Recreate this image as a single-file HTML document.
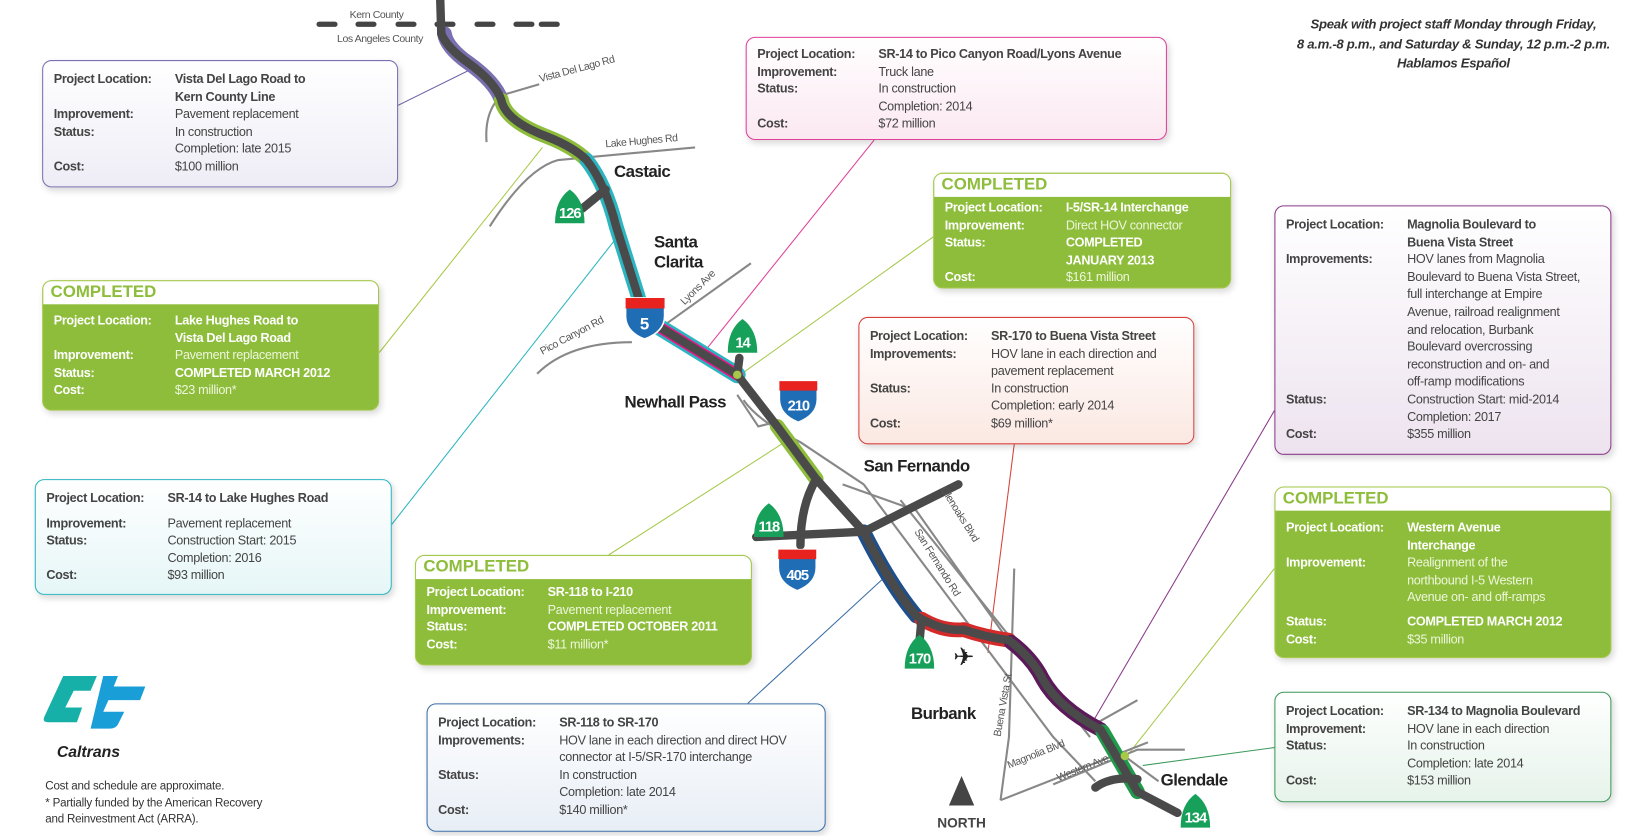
<!DOCTYPE html>
<html><head><meta charset="utf-8">
<style>
html,body{margin:0;padding:0;background:#fff;}
#wrap{position:relative;width:1643px;height:836px;overflow:hidden;background:#fff;}
#s{position:absolute;left:0;top:0;width:1560px;height:794px;transform:scale(1.0532,1.0529);transform-origin:0 0;font-family:"Liberation Sans",sans-serif;}
.box{position:absolute;border-radius:9px;box-sizing:border-box;font-size:12px;letter-spacing:-0.3px;line-height:16.6px;color:#444;box-shadow:2px 3px 6px rgba(0,0,0,.15);}
.box .c{padding:9px 10px;}
.row{display:flex;}
.row .l{width:115px;flex:none;font-weight:bold;white-space:nowrap;}
.row .v{flex:1;white-space:nowrap;}
.b{font-weight:bold;}
.comp{border:1.5px solid #a6c94a;background:#8dbd3a;overflow:hidden;}
.comp .h{background:#fff;color:#8dbd3a;font-weight:bold;font-size:16px;letter-spacing:0;line-height:22px;padding:0 7px;}
.comp .c{color:#f2f8e6;}
.comp .l{color:#fff;}
.comp .v{color:#eef6dc;}
.comp .v.b{color:#fff;}
.lab{position:absolute;color:#222;font-weight:bold;font-size:16px;letter-spacing:-0.5px;line-height:19px;}
</style></head><body><div id="wrap"><div id="s">

<svg width="1560" height="794" style="position:absolute;left:0;top:0">
<g stroke="#444" stroke-width="5" stroke-linecap="round">
<line x1="303" y1="23" x2="318" y2="23"/><line x1="340" y1="23" x2="355" y2="23"/><line x1="378" y1="23" x2="393" y2="23"/><line x1="415" y1="23" x2="430" y2="23"/><line x1="453" y1="23" x2="468" y2="23"/><line x1="490" y1="23" x2="505" y2="23"/><line x1="514" y1="23" x2="529" y2="23"/>
</g>
<g stroke-width="1" fill="none">
<line x1="378" y1="100" x2="455" y2="62" stroke="#6a62a8"/>
<line x1="360" y1="335" x2="515" y2="140" stroke="#a6c94a"/>
<line x1="372" y1="498" x2="590" y2="220" stroke="#2bb5c0"/>
<line x1="578" y1="527" x2="745" y2="420" stroke="#a6c94a"/>
<line x1="710" y1="668" x2="838" y2="550" stroke="#3a6ea5"/>
<line x1="830" y1="133" x2="668" y2="335" stroke="#e0409a"/>
<line x1="886" y1="225" x2="700" y2="358" stroke="#a6c94a"/>
<line x1="963" y1="422" x2="938" y2="620" stroke="#d9403a"/>
<line x1="1210" y1="390" x2="1035" y2="690" stroke="#8a3a8a"/>
<line x1="1210" y1="540" x2="1070" y2="718" stroke="#a6c94a"/>
<line x1="1210" y1="710" x2="1085" y2="727" stroke="#3a9a5a"/>
</g>
<g stroke="#888" stroke-width="2" fill="none">
<path d="M478 90 L512 80"/>
<path d="M472 95 Q460 110 462 135"/>
<path d="M465 215 Q500 160 530 152 L660 140"/>
<path d="M510 355 Q540 325 600 325"/>
<path d="M618 318 L713 250"/>
<path d="M700 375 L720 405 L740 400"/>
<path d="M706 380 Q720 400 760 420 L820 460 L925 600 L1000 700 L1040 742"/>
<path d="M800 460 L870 485 L960 612 L1050 705 L1100 742"/>
<path d="M855 475 L1035 700"/>
<path d="M963 540 L958 700 L950 760"/>
<path d="M950 760 L1090 705"/>
<path d="M1000 745 L1080 712 L1125 712"/>
<path d="M1030 693 L1080 665"/>
</g>
<g fill="none" stroke-width="14" stroke-linecap="round">
<path d="M422 32 Q424 45 445 60 Q470 78 476 95" stroke="#7a6fb0"/>
<path d="M476 95 Q480 115 520 130 Q545 140 557 152" stroke="#8dbd3a"/>
<path d="M557 152 Q575 175 585 215 L607 285" stroke="#2bb5c0"/>
<path d="M625 310 L700 356" stroke="#2bb5c0" stroke-width="16"/>
<path d="M625 310 L700 356" stroke="#e6198a" stroke-width="11"/>
<path d="M738 405 L775 455" stroke="#8dbd3a"/>
<path d="M820 505 Q845 555 870 585" stroke="#1f4f8a"/>
<path d="M875 588 Q895 600 915 598 Q935 605 958 608" stroke="#d42a2a"/>
<path d="M960 610 Q980 625 990 645 Q1005 672 1045 693" stroke="#5c1a5a"/>
<path d="M1047 695 L1080 752" stroke="#1f9a4a"/>
</g>
<g fill="none" stroke="#4a4a4a" stroke-width="8" stroke-linecap="round" stroke-linejoin="round">
<path d="M418 0 L419 32 Q424 45 445 60 Q470 78 476 95 Q480 115 520 130 Q545 140 557 152 Q575 175 585 215 L607 285"/>
<path d="M625 310 L700 356 L738 405 L775 455 L820 505 Q845 555 870 585 Q895 600 915 598 Q935 605 958 608 Q980 625 990 645 Q1005 672 1045 693 L1080 752 L1118 772"/>
<path d="M575 180 L553 198"/>
<path d="M702 340 L700 356"/>
<path d="M775 455 Q760 480 760 518"/>
<path d="M718 510 L820 505 L910 460"/>
<path d="M775 455 L820 505"/>
<path d="M875 588 L873 610"/>
<path d="M1040 748 Q1055 737 1080 740"/>
</g>
<circle cx="700" cy="356" r="4" fill="#a6c94a"/>
<circle cx="1068" cy="718" r="4" fill="#a6c94a"/>
<g fill="#17a05a">
<path d="M527 212 Q527 190 541 180 Q555 190 555 212 Z"/>
<path d="M691 335 Q691 313 705 303 Q719 313 719 335 Z"/>
<path d="M716 510 Q716 488 730 478 Q744 488 744 510 Z"/>
<path d="M859 635 Q859 613 873 603 Q887 613 887 635 Z"/>
<path d="M1121 786 Q1121 764 1135 754 Q1149 764 1149 786 Z"/>
</g>
<g fill="#fff" font-family="Liberation Sans,sans-serif" font-weight="bold" font-size="14" letter-spacing="-1" text-anchor="middle">
<text x="541" y="207">126</text><text x="705" y="330">14</text><text x="730" y="505">118</text><text x="873" y="630">170</text><text x="1135" y="781">134</text>
</g>
<g>
<path d="M594 283 L631 283 L631 300 Q631 315 612 322 Q594 315 594 300 Z" fill="#1f6db5" stroke="#fff" stroke-width="1.5"/>
<path d="M594 283 L631 283 L631 293 L594 293 Z" fill="#e8231f"/>
<text x="612" y="313" fill="#fff" font-family="Liberation Sans,sans-serif" font-weight="bold" font-size="16" text-anchor="middle">5</text>
<path d="M740 362 L776 362 L776 379 Q776 394 758 401 Q740 394 740 379 Z" fill="#1f6db5" stroke="#fff" stroke-width="1.5"/>
<path d="M740 362 L776 362 L776 371 L740 371 Z" fill="#e8231f"/>
<text x="758" y="390" fill="#fff" font-family="Liberation Sans,sans-serif" font-weight="bold" font-size="14" letter-spacing="-1" text-anchor="middle">210</text>
<path d="M739 522 L775 522 L775 539 Q775 554 757 561 Q739 554 739 539 Z" fill="#1f6db5" stroke="#fff" stroke-width="1.5"/>
<path d="M739 522 L775 522 L775 531 L739 531 Z" fill="#e8231f"/>
<text x="757" y="551" fill="#fff" font-family="Liberation Sans,sans-serif" font-weight="bold" font-size="14" letter-spacing="-1" text-anchor="middle">405</text>
</g>
<path d="M901 765 L913 737 L925 765 Z" fill="#444"/>
<text x="913" y="786" font-family="Liberation Sans,sans-serif" font-weight="bold" font-size="13" fill="#444" text-anchor="middle">NORTH</text>
<text x="915" y="632" font-size="24" fill="#222" text-anchor="middle" font-family="DejaVu Sans,sans-serif">✈</text>
<g font-family="Liberation Sans,sans-serif" font-size="10" letter-spacing="-0.4" fill="#555">
<text x="332" y="17">Kern County</text>
<text x="320" y="40">Los Angeles County</text>
<text x="513" y="78" transform="rotate(-15 513 78)">Vista Del Lago Rd</text>
<text x="575" y="140" transform="rotate(-5 575 140)">Lake Hughes Rd</text>
<text x="515" y="337" transform="rotate(-28 515 337)">Pico Canyon Rd</text>
<text x="650" y="290" transform="rotate(-45 650 290)">Lyons Ave</text>
<text x="893" y="465" transform="rotate(58 893 465)">Glenoaks Blvd</text>
<text x="868" y="505" transform="rotate(58 868 505)">San Fernando Rd</text>
<text x="950" y="700" transform="rotate(-80 950 700)">Buena Vista St</text>
<text x="958" y="730" transform="rotate(-22 958 730)">Magnolia Blvd</text>
<text x="1005" y="742" transform="rotate(-22 1005 742)">Western Ave</text>
</g>
</svg>

<div class="lab" style="left:583px;top:154px">Castaic</div>
<div class="lab" style="left:621px;top:221px">Santa<br>Clarita</div>
<div class="lab" style="left:593px;top:373px">Newhall Pass</div>
<div class="lab" style="left:820px;top:434px">San Fernando</div>
<div class="lab" style="left:865px;top:669px">Burbank</div>
<div class="lab" style="left:1102px;top:732px">Glendale</div>

<div style="position:absolute;left:1190px;top:14px;width:380px;text-align:center;font-style:italic;font-weight:bold;font-size:12.5px;letter-spacing:-0.3px;line-height:18.5px;color:#333">Speak with project staff Monday through Friday,<br>8 a.m.-8 p.m., and Saturday &amp; Sunday, 12 p.m.-2 p.m.<br>Hablamos Español</div>

<svg width="120" height="90" style="position:absolute;left:40px;top:636px">
<path d="M20 6 L52 6 L46 20 L30 20 L22 36 L38 36 L33 50 L6 50 Q0 50 2 45 Z" fill="#17b0a8"/>
<path d="M58 6 L72 6 L68 16 L98 16 L93 29 L63 29 L58 40 L78 40 L72 52 Q70 56 64 56 L46 56 Z" fill="#1a9ed8"/>
<text x="14" y="83" font-family="Liberation Sans,sans-serif" font-weight="bold" font-style="italic" font-size="15" fill="#222">Caltrans</text>
</svg>
<div style="position:absolute;left:43px;top:740px;font-size:11px;letter-spacing:-0.2px;line-height:15.5px;color:#333">Cost and schedule are approximate.<br>* Partially funded by the American Recovery<br>and Reinvestment Act (ARRA).</div>

<div class="box" style="left:40px;top:57px;width:338px;height:121px;border:1.5px solid #7a6fb0;background:linear-gradient(#fff,#eeedf6)"><div class="c">
<div class="row"><div class="l">Project Location:</div><div class="v b">Vista Del Lago Road to<br>Kern County Line</div></div>
<div class="row"><div class="l">Improvement:</div><div class="v">Pavement replacement</div></div>
<div class="row"><div class="l">Status:</div><div class="v">In construction<br>Completion: late 2015</div></div>
<div class="row"><div class="l">Cost:</div><div class="v">$100 million</div></div></div></div>

<div class="box comp" style="left:40px;top:266px;width:320px;height:124px"><div class="h">COMPLETED</div><div class="c" style="padding-top:7px">
<div class="row"><div class="l">Project Location:</div><div class="v b">Lake Hughes Road to<br>Vista Del Lago Road</div></div>
<div class="row"><div class="l">Improvement:</div><div class="v">Pavement replacement</div></div>
<div class="row"><div class="l">Status:</div><div class="v b">COMPLETED MARCH 2012</div></div>
<div class="row"><div class="l">Cost:</div><div class="v">$23 million*</div></div></div></div>

<div class="box" style="left:33px;top:455px;width:339px;height:110px;border:1.5px solid #2bb5c0;background:linear-gradient(#fff,#e6f6f7)"><div class="c">
<div class="row" style="margin-bottom:7px"><div class="l">Project Location:</div><div class="v b">SR-14 to Lake Hughes Road</div></div>
<div class="row"><div class="l">Improvement:</div><div class="v">Pavement replacement</div></div>
<div class="row"><div class="l">Status:</div><div class="v">Construction Start: 2015<br>Completion: 2016</div></div>
<div class="row"><div class="l">Cost:</div><div class="v">$93 million</div></div></div></div>

<div class="box comp" style="left:394px;top:527px;width:320px;height:105px"><div class="h">COMPLETED</div><div class="c" style="padding-top:4px">
<div class="row"><div class="l">Project Location:</div><div class="v b">SR-118 to I-210</div></div>
<div class="row"><div class="l">Improvement:</div><div class="v">Pavement replacement</div></div>
<div class="row"><div class="l">Status:</div><div class="v b">COMPLETED OCTOBER 2011</div></div>
<div class="row"><div class="l">Cost:</div><div class="v">$11 million*</div></div></div></div>

<div class="box" style="left:405px;top:668px;width:379px;height:122px;border:1.5px solid #3a6ea5;background:linear-gradient(#fff,#e8eef6)"><div class="c">
<div class="row"><div class="l">Project Location:</div><div class="v b">SR-118 to SR-170</div></div>
<div class="row"><div class="l">Improvements:</div><div class="v">HOV lane in each direction and direct HOV<br>connector at I-5/SR-170 interchange</div></div>
<div class="row"><div class="l">Status:</div><div class="v">In construction<br>Completion: late 2014</div></div>
<div class="row"><div class="l">Cost:</div><div class="v">$140 million*</div></div></div></div>

<div class="box" style="left:708px;top:35px;width:400px;height:98px;border:1.5px solid #e0409a;background:linear-gradient(#fff,#fbe8f1)"><div class="c" style="padding-top:7px">
<div class="row"><div class="l">Project Location:</div><div class="v b">SR-14 to Pico Canyon Road/Lyons Avenue</div></div>
<div class="row"><div class="l">Improvement:</div><div class="v">Truck lane</div></div>
<div class="row"><div class="l">Status:</div><div class="v">In construction<br>Completion: 2014</div></div>
<div class="row"><div class="l">Cost:</div><div class="v">$72 million</div></div></div></div>

<div class="box comp" style="left:886px;top:164px;width:283px;height:110px"><div class="h">COMPLETED</div><div class="c" style="padding-top:2px">
<div class="row"><div class="l">Project Location:</div><div class="v b">I-5/SR-14 Interchange</div></div>
<div class="row"><div class="l">Improvement:</div><div class="v">Direct HOV connector</div></div>
<div class="row"><div class="l">Status:</div><div class="v b">COMPLETED<br>JANUARY 2013</div></div>
<div class="row"><div class="l">Cost:</div><div class="v">$161 million</div></div></div></div>

<div class="box" style="left:815px;top:301px;width:319px;height:121px;border:1.5px solid #d9403a;background:linear-gradient(#fff,#fbe8e2)"><div class="c">
<div class="row"><div class="l">Project Location:</div><div class="v b">SR-170 to Buena Vista Street</div></div>
<div class="row"><div class="l">Improvements:</div><div class="v">HOV lane in each direction and<br>pavement replacement</div></div>
<div class="row"><div class="l">Status:</div><div class="v">In construction<br>Completion: early 2014</div></div>
<div class="row"><div class="l">Cost:</div><div class="v">$69 million*</div></div></div></div>

<div class="box" style="left:1210px;top:195px;width:320px;height:237px;border:1.5px solid #8a3a8a;background:linear-gradient(#fff,#ede3ef)"><div class="c">
<div class="row"><div class="l">Project Location:</div><div class="v b">Magnolia Boulevard to<br>Buena Vista Street</div></div>
<div class="row"><div class="l">Improvements:</div><div class="v">HOV lanes from Magnolia<br>Boulevard to Buena Vista Street,<br>full interchange at Empire<br>Avenue, railroad realignment<br>and relocation, Burbank<br>Boulevard overcrossing<br>reconstruction and on- and<br>off-ramp modifications</div></div>
<div class="row"><div class="l">Status:</div><div class="v">Construction Start: mid-2014<br>Completion: 2017</div></div>
<div class="row"><div class="l">Cost:</div><div class="v">$355 million</div></div></div></div>

<div class="box comp" style="left:1210px;top:462px;width:320px;height:163px"><div class="h">COMPLETED</div><div class="c" style="padding-top:8px">
<div class="row"><div class="l">Project Location:</div><div class="v b">Western Avenue<br>Interchange</div></div>
<div class="row"><div class="l">Improvement:</div><div class="v">Realignment of the<br>northbound I-5 Western<br>Avenue on- and off-ramps</div></div>
<div class="row" style="margin-top:6px"><div class="l">Status:</div><div class="v b">COMPLETED MARCH 2012</div></div>
<div class="row"><div class="l">Cost:</div><div class="v">$35 million</div></div></div></div>

<div class="box" style="left:1210px;top:657px;width:320px;height:105px;border:1.5px solid #3a9a5a;background:linear-gradient(#fff,#e6f3ea)"><div class="c">
<div class="row"><div class="l">Project Location:</div><div class="v b">SR-134 to Magnolia Boulevard</div></div>
<div class="row"><div class="l">Improvement:</div><div class="v">HOV lane in each direction</div></div>
<div class="row"><div class="l">Status:</div><div class="v">In construction<br>Completion: late 2014</div></div>
<div class="row"><div class="l">Cost:</div><div class="v">$153 million</div></div></div></div>

</div></div></body></html>
